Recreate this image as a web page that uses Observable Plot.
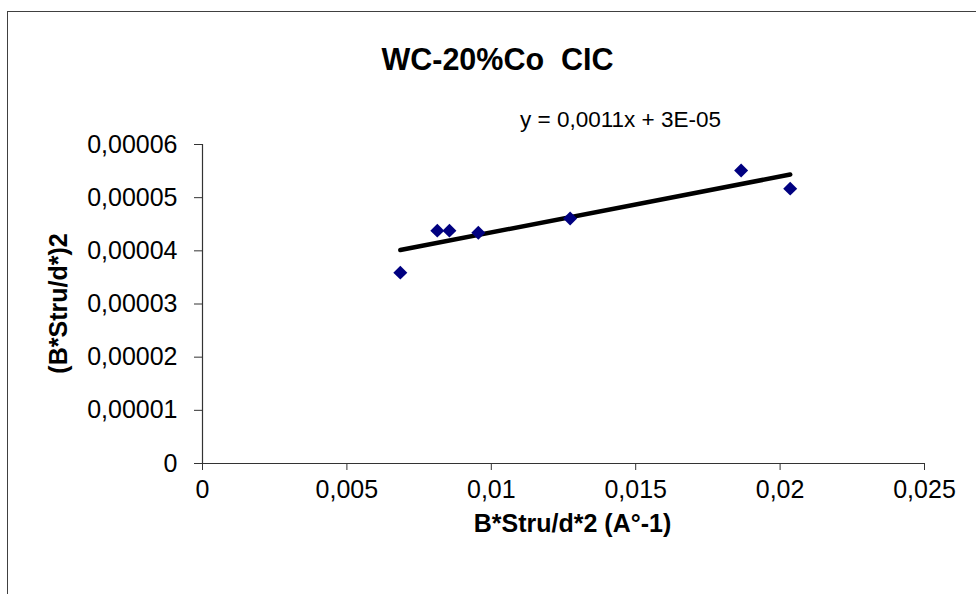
<!DOCTYPE html>
<html>
<head>
<meta charset="utf-8">
<script src="https://cdn.jsdelivr.net/npm/d3@7"></script>
<script src="https://cdn.jsdelivr.net/npm/@observablehq/plot@0.6"></script>
<style>
  html, body { margin: 0; padding: 0; background: #fff; }
  #wrap { position: relative; width: 976px; height: 594px; overflow: hidden; background: #fff; }
  #frame { position: absolute; left: 7px; top: 11px; width: 1000px; height: 700px; border: 1.5px solid #404040; box-sizing: border-box; pointer-events: none; }
  #wrap svg { position: absolute; left: 0; top: 0; }
</style>
</head>
<body>
<div id="wrap"><div id="frame"></div></div>
<script>
// Data
const xValues = [0.00685, 0.00813, 0.00855, 0.00955, 0.01273, 0.01865, 0.02035];
const yValues = [0.0000359, 0.0000438, 0.0000438, 0.0000434, 0.0000461, 0.0000551, 0.0000517];

const xTicks = [0, 0.005, 0.01, 0.015, 0.02, 0.025];
const xTickLabels = ["0", "0,005", "0,01", "0,015", "0,02", "0,025"];
const yTicks = [0, 0.00001, 0.00002, 0.00003, 0.00004, 0.00005, 0.00006];
const yTickLabels = ["0", "0,00001", "0,00002", "0,00003", "0,00004", "0,00005", "0,00006"];

const titleText = "WC-20%Co\u00a0 CIC";
const equationText = "y = 0,0011x + 3E-05";
const xTitle = "B*Stru/d*2 (A°-1)";
const yTitle = "(B*Stru/d*)2";

const points = xValues.map((x, i) => ({x, y: yValues[i]}));
const xLab = new Map(xTicks.map((t, i) => [t, xTickLabels[i]]));
const yLab = new Map(yTicks.map((t, i) => [t, yTickLabels[i]]));

const mL = 202, mT = 144;

const chart = Plot.plot({
  width: 976,
  height: 594,
  marginLeft: mL,
  marginRight: 52,
  marginTop: mT,
  marginBottom: 131,
  style: {fontFamily: "'Liberation Sans', Arial, sans-serif", fontSize: "25px", color: "#000", background: "transparent"},
  x: {domain: [0, 0.025]},
  y: {domain: [0, 0.00006]},
  marks: [
    Plot.ruleY([0], {stroke: "#333", strokeWidth: 1.2}),
    Plot.ruleX([0], {stroke: "#333", strokeWidth: 1.2}),
    Plot.axisY({ticks: yTicks, tickFormat: d => yLab.get(d), tickSize: 8, tickPadding: 17, stroke: "#333", fill: "#000", fontSize: 25, label: null}),
    Plot.axisX({ticks: xTicks, tickFormat: d => xLab.get(d), tickSize: 7, tickPadding: 10, stroke: "#333", fill: "#000", fontSize: 25, label: null}),
    Plot.linearRegressionY(points, {x: "x", y: "y", ci: 0, stroke: "#000", strokeWidth: 4.5}),
    Plot.dot(points, {x: "x", y: "y", symbol: "diamond2", r: 6.3, fill: "#000080", stroke: "none"}),
    Plot.text([titleText], {frameAnchor: "top-left", dx: 497 - mL, dy: 60 - mT, text: d => d, fontSize: 30.5, fontWeight: "bold", textAnchor: "middle", lineAnchor: "middle", fill: "#000"}),
    Plot.text([equationText], {frameAnchor: "top-left", dx: 620 - mL, dy: 119 - mT, text: d => d, fontSize: 22.5, textAnchor: "middle", lineAnchor: "middle", fill: "#000"}),
    Plot.text([xTitle], {frameAnchor: "top-left", dx: 572 - mL, dy: 523 - mT, text: d => d, fontSize: 25, fontWeight: "bold", textAnchor: "middle", lineAnchor: "middle", fill: "#000"}),
    Plot.text([yTitle], {frameAnchor: "top-left", dx: 58 - mL, dy: 303 - mT, text: d => d, fontSize: 25, fontWeight: "bold", textAnchor: "middle", lineAnchor: "middle", rotate: -90, fill: "#000"})
  ]
});
document.getElementById("wrap").appendChild(chart);
</script>
</body>
</html>
